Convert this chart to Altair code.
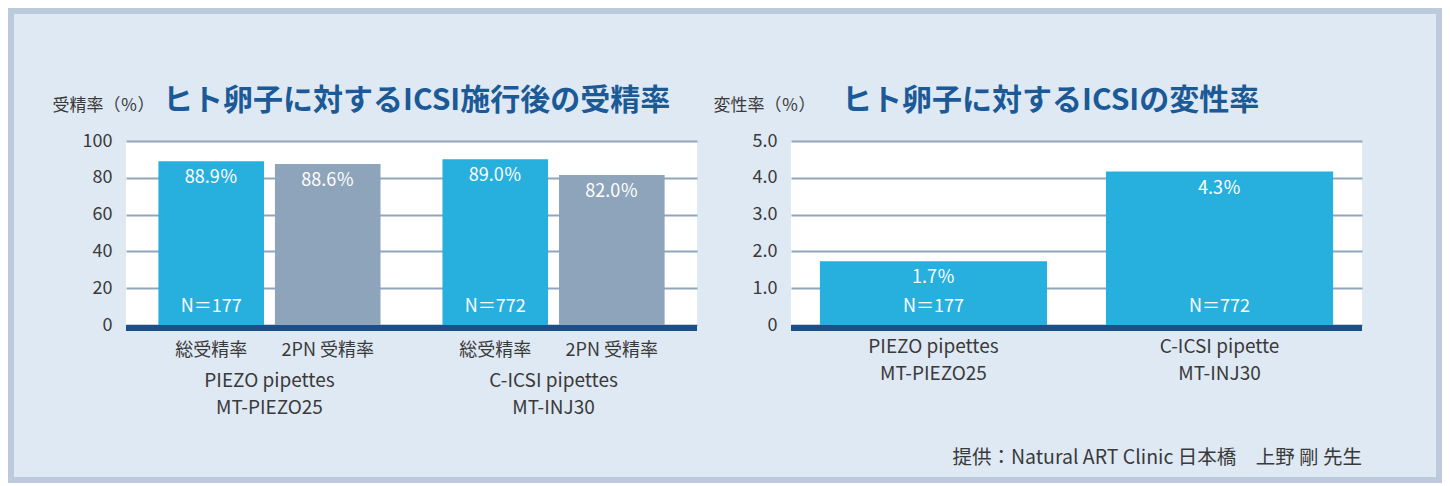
import altair as alt
import pandas as pd

# ---------------- data ----------------
groups = ["PIEZO pipettes|MT-PIEZO25", "C-ICSI pipettes|MT-INJ30"]
kinds = ["総受精率", "2PN 受精率"]
fert_group = [groups[0], groups[0], groups[1], groups[1]]
fert_kind = [kinds[0], kinds[1], kinds[0], kinds[1]]
fert_value = [89.0, 87.5, 90.1, 81.5]
fert_label = ["88.9％", "88.6％", "89.0％", "82.0％"]
fert_n = ["N＝177", "", "N＝772", ""]

deg_groups = ["PIEZO pipettes|MT-PIEZO25", "C-ICSI pipette|MT-INJ30"]
deg_value = [1.73, 4.17]
deg_label = ["1.7％", "4.3％"]
deg_n = ["N＝177", "N＝772"]

fert_ticks = [0, 20, 40, 60, 80, 100]
deg_ticks = [0, 1, 2, 3, 4, 5]

title_left = "ヒト卵子に対するICSI施行後の受精率"
title_right = "ヒト卵子に対するICSIの変性率"
ytitle_left = "受精率（％）"
ytitle_right = "変性率（％）"
footer = "提供：Natural ART Clinic 日本橋　上野 剛 先生"

# ---------------- styles ----------------
FONT = "Noto Sans CJK JP"
CYAN = "#27afdd"
GRAY = "#8da4ba"
NAVY = "#1b4f87"
GRID = "#8fa6bd"
BG = "#dfe9f4"
FRAME = "#bccadb"
TITLE = "#1b5a96"
TXT = "#3a3a3a"

W, H = 571, 184

df_f = pd.DataFrame({"group": fert_group, "kind": fert_kind, "value": fert_value,
                     "label": fert_label, "n": fert_n, "zero": [0] * len(fert_value)})
df_d = pd.DataFrame({"group": deg_groups, "value": deg_value, "label": deg_label, "n": deg_n,
                     "zero": [0] * len(deg_value)})
one = pd.DataFrame({"k": [0]})


def y_axis(ticks, title, tx, expr):
    return alt.Axis(values=ticks, labelExpr=expr, domain=False, ticks=False, grid=True,
                    gridColor=GRID, gridWidth=2, labelPadding=14, labelFontSize=18,
                    labelColor=TXT, labelFont=FONT, labelOverlap=False, tickCount=len(ticks),
                    title=title, titleAngle=0, titleX=tx, titleY=-36,
                    titleAlign="left", titleBaseline="middle", titleFontSize=17,
                    titleFontWeight="normal", titleColor=TXT, titleFont=FONT)


# ---------------- left panel ----------------
xl = alt.X("group:N", sort=groups, title=None,
           scale=alt.Scale(paddingInner=0.218, paddingOuter=0.114),
           axis=alt.Axis(labelExpr="split(datum.label, '|')", labelAngle=0, labelPadding=46,
                         labelFontSize=19, labelLineHeight=27, labelColor=TXT, labelFont=FONT,
                         labelOverlap=False, domain=False, ticks=False, grid=False))
xo = alt.XOffset("kind:N", sort=kinds, scale=alt.Scale(paddingInner=0.094, paddingOuter=0))
sc_l = alt.Scale(domain=[0, 100], nice=False)
ax_l = y_axis(fert_ticks, ytitle_left, -74, "format(datum.value, 'd')")
yl = alt.Y("value:Q", scale=sc_l, axis=ax_l)
yl0 = alt.Y("zero:Q", scale=sc_l, axis=ax_l)

base_f = alt.Chart(df_f)
bars_f = base_f.mark_bar().encode(
    x=xl, xOffset=xo, y=yl,
    color=alt.Color("kind:N", scale=alt.Scale(domain=kinds, range=[CYAN, GRAY]), legend=None))
val_f = base_f.mark_text(dy=17, color="white", fontSize=18, baseline="middle", font=FONT).encode(
    x=xl, xOffset=xo, y=yl, text="label:N")
n_f = base_f.mark_text(dy=-18, color="white", fontSize=18, baseline="middle", font=FONT).encode(
    x=xl, xOffset=xo, y=yl0, text="n:N")
sub_f = base_f.mark_text(color=TXT, fontSize=18, baseline="middle", font=FONT).encode(
    x=xl, xOffset=xo, y=alt.value(210), text="kind:N")
zero_f = base_f.mark_rule(color=NAVY, strokeWidth=6, yOffset=3).encode(y=yl0)
ttl_f = alt.Chart(one).mark_text(align="left", baseline="middle", fontSize=30, fontWeight="bold",
                                 color=TITLE, font=FONT).encode(
    x=alt.value(37), y=alt.value(-40), text=alt.value(title_left))
frame = alt.Chart(one).mark_rect(fillOpacity=0, stroke=FRAME, strokeWidth=6).encode(
    x=alt.value(-115), x2=alt.value(1313), y=alt.value(-130), y2=alt.value(339))

left = alt.layer(frame, bars_f, zero_f, val_f, n_f, sub_f, ttl_f).properties(width=W, height=H)

# ---------------- right panel ----------------
xr = alt.X("group:N", sort=deg_groups, title=None,
           scale=alt.Scale(paddingInner=0.206, paddingOuter=0.101),
           axis=alt.Axis(labelExpr="split(datum.label, '|')", labelAngle=0, labelPadding=12,
                         labelFontSize=19, labelLineHeight=27, labelColor=TXT, labelFont=FONT,
                         labelOverlap=False, domain=False, ticks=False, grid=False))
sc_r = alt.Scale(domain=[0, 5], nice=False)
ax_r = y_axis(deg_ticks, ytitle_right, -78,
              "datum.value == 0 ? '0' : format(datum.value, '.1f')")
yr = alt.Y("value:Q", scale=sc_r, axis=ax_r)
yr0 = alt.Y("zero:Q", scale=sc_r, axis=ax_r)

base_d = alt.Chart(df_d)
bars_d = base_d.mark_bar(color=CYAN).encode(x=xr, y=yr)
val_d = base_d.mark_text(dy=17, color="white", fontSize=18, baseline="middle", font=FONT).encode(
    x=xr, y=yr, text="label:N")
n_d = base_d.mark_text(dy=-18, color="white", fontSize=18, baseline="middle", font=FONT).encode(
    x=xr, y=yr0, text="n:N")
zero_d = base_d.mark_rule(color=NAVY, strokeWidth=6, yOffset=3).encode(y=yr0)
ttl_d = alt.Chart(one).mark_text(align="left", baseline="middle", fontSize=30, fontWeight="bold",
                                 color=TITLE, font=FONT).encode(
    x=alt.value(51), y=alt.value(-40), text=alt.value(title_right))
foot = alt.Chart(one).mark_text(align="right", baseline="middle", fontSize=19.5, color=TXT,
                                font=FONT).encode(
    x=alt.value(W), y=alt.value(317), text=alt.value(footer))

right = alt.layer(bars_d, zero_d, val_d, n_d, ttl_d, foot).properties(width=W, height=H)

chart = alt.hconcat(left, right, spacing=94, bounds="flush").configure(
    background=BG, padding=0, font=FONT
).configure_view(fill="white", stroke=None)

chart.save("out.html", embed_options={"renderer": "svg", "actions": False})
